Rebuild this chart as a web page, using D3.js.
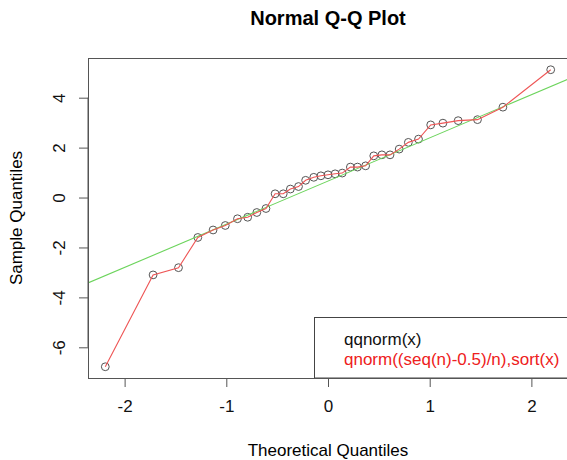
<!DOCTYPE html>
<html>
<head>
<meta charset="utf-8">
<script src="https://cdn.jsdelivr.net/npm/d3@7"></script>
<style>
  body { margin: 0; background: #fff; }
  svg { font-family: "Liberation Sans", Arial, sans-serif; }
</style>
</head>
<body>
<svg id="svg" width="567" height="460"></svg>
<script>
// theoretical quantiles (x) and sorted sample values (y)
let theoretical = [-2.19, -1.72, -1.47, -1.28, -1.13, -1.01, -0.89, -0.79, -0.70, -0.61,
	-0.52, -0.44, -0.37, -0.29, -0.22, -0.14, -0.07, 0.00, 0.07, 0.14,
	0.22, 0.29, 0.37, 0.45, 0.53, 0.61, 0.70, 0.79, 0.89, 1.01,
	1.13, 1.28, 1.47, 1.72, 2.19];
let sample = [-6.78, -3.10, -2.81, -1.60, -1.30, -1.12, -0.85, -0.79, -0.60, -0.44,
	0.15, 0.15, 0.34, 0.44, 0.69, 0.81, 0.87, 0.91, 0.95, 0.98,
	1.22, 1.22, 1.27, 1.67, 1.71, 1.71, 1.94, 2.21, 2.34, 2.91,
	2.98, 3.08, 3.12, 3.62, 5.12];
// qqline: intercept and slope
let qqLine = [0.66, 1.73];
let xTicks = [-2, -1, 0, 1, 2];
let yTicks = [-6, -4, -2, 0, 2, 4];
let legendLabels = ["qqnorm(x)", "qnorm((seq(n)-0.5)/n),sort(x)"];
let legendColors = ["#111", "#ee2020"];

let svg = d3.select("#svg");
let plot = {left: 88, top: 58, right: 568, bottom: 378};

let points = theoretical.map(function(d, i) { return {x: d, y: sample[i]}; });

let xScale = d3.scaleLinear()
		.domain([-2.36, 2.36])
		.range([plot.left, plot.right]);
let yScale = d3.scaleLinear()
		.domain([-7.23, 5.59])
		.range([plot.bottom, plot.top]);

let plainFormat = function(d) { return String(d); }; // keep ascii hyphen like R

// axes (R style: ticks outside, line only between first and last tick)
let xAxis = svg.append("g")
		.attr("transform", "translate(0," + plot.bottom + ")")
		.call(d3.axisBottom(xScale).tickValues(xTicks).tickSize(9).tickSizeOuter(0).tickPadding(13)
			.tickFormat(plainFormat));
xAxis.select(".domain").remove();
xAxis.selectAll("line").attr("stroke", "#555");
xAxis.selectAll("text").attr("font-size", 17).attr("fill", "#111")
		.attr("font-family", "Liberation Sans, Arial, sans-serif");

let yAxis = svg.append("g")
		.attr("transform", "translate(" + plot.left + ",0)")
		.call(d3.axisLeft(yScale).tickValues(yTicks).tickSize(9).tickSizeOuter(0)
			.tickFormat(plainFormat));
yAxis.select(".domain").remove();
yAxis.selectAll("line").attr("stroke", "#555");
yAxis.selectAll("text")
		.attr("x", 0).attr("dy", null)
		.attr("transform", "translate(-23,0) rotate(-90)")
		.attr("text-anchor", "middle")
		.attr("font-size", 17).attr("fill", "#111")
		.attr("font-family", "Liberation Sans, Arial, sans-serif");
yAxis.append("line")
		.attr("x1", 0).attr("x2", 0)
		.attr("y1", yScale(yTicks[0])).attr("y2", yScale(yTicks[yTicks.length - 1]))
		.attr("stroke", "#555");

let clip = svg.append("clipPath").attr("id", "clip")
		.append("rect")
		.attr("x", plot.left).attr("y", plot.top)
		.attr("width", plot.right - plot.left).attr("height", plot.bottom - plot.top);

let chart = svg.append("g").attr("clip-path", "url(#clip)");

// sample points
chart.selectAll("circle").data(points).enter()
		.append("circle")
		.attr("cx", function(d) { return xScale(d.x); })
		.attr("cy", function(d) { return yScale(d.y); })
		.attr("r", 3.9)
		.attr("fill", "none")
		.attr("stroke", "#555")
		.attr("stroke-width", 1);

// qqline
let xd = xScale.domain();
chart.append("line")
		.attr("x1", xScale(xd[0])).attr("y1", yScale(qqLine[0] + qqLine[1] * xd[0]))
		.attr("x2", xScale(xd[1])).attr("y2", yScale(qqLine[0] + qqLine[1] * xd[1]))
		.attr("stroke", "#6cd45c")
		.attr("stroke-width", 1.1);

// connecting line
chart.append("path")
		.datum(points)
		.attr("fill", "none")
		.attr("stroke", "#ee5555")
		.attr("stroke-width", 1.1)
		.attr("d", d3.line().x(function(d) { return xScale(d.x); }).y(function(d) { return yScale(d.y); }));

// legend (bottom right)
svg.append("rect")
		.attr("x", 314.5).attr("y", 317.5)
		.attr("width", 300).attr("height", plot.bottom - 317.5)
		.attr("fill", "white")
		.attr("stroke", "#444");
svg.selectAll("text.legend").data(legendLabels).enter()
		.append("text")
		.classed("legend", true)
		.attr("x", 344)
		.attr("y", function(d, i) { return 345 + i * 20; })
		.attr("font-size", 17)
		.attr("fill", function(d, i) { return legendColors[i]; })
		.text(function(d) { return d; });

// box
svg.append("rect")
		.attr("x", plot.left + 0.5).attr("y", plot.top + 0.5)
		.attr("width", plot.right - plot.left).attr("height", plot.bottom - plot.top)
		.attr("fill", "none")
		.attr("stroke", "#555");

// titles
svg.append("text")
		.attr("x", 328).attr("y", 25)
		.attr("text-anchor", "middle")
		.attr("font-size", 20).attr("font-weight", "bold")
		.text("Normal Q-Q Plot");
svg.append("text")
		.attr("x", 328).attr("y", 456)
		.attr("text-anchor", "middle")
		.attr("font-size", 17)
		.text("Theoretical Quantiles");
svg.append("text")
		.attr("transform", "translate(22," + ((plot.top + plot.bottom) / 2) + ") rotate(-90)")
		.attr("text-anchor", "middle")
		.attr("font-size", 17)
		.text("Sample Quantiles");
</script>
</body>
</html>
